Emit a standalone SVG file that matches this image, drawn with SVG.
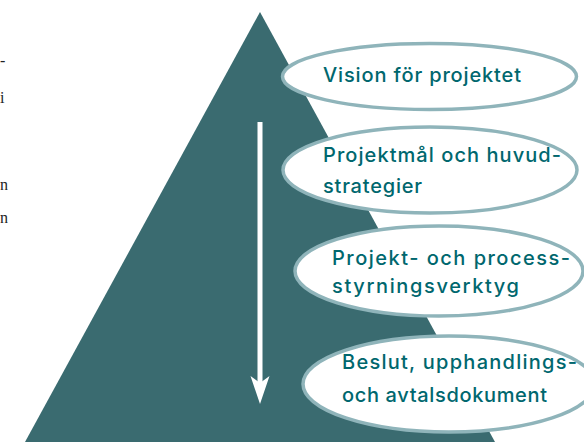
<svg xmlns="http://www.w3.org/2000/svg" width="584" height="442" viewBox="0 0 584 442">
<style>
.tri{fill:#3a6b70}
.oval{fill:#ffffff;stroke:#8fb4ba;stroke-width:3.5}
.lbl{font-family:Inter,"DejaVu Sans","Liberation Sans",sans-serif;font-size:20px;font-weight:500;fill:#00676e}
.frag{font-family:"Liberation Serif",serif;font-size:16px;fill:#222}
.arrow{stroke:#ffffff;stroke-width:5;fill:none}
.head{fill:#ffffff}
</style>
<rect width="584" height="442" fill="#ffffff"/>
<g id="fragments">
<text class="frag" x="0" y="66">-</text>
<text class="frag" x="0" y="103">i</text>
<text class="frag" x="0" y="190">n</text>
<text class="frag" x="0" y="223">n</text>
</g>
<g id="pyramid">
<polygon class="tri" points="260,12 25,442 495,442"/>
</g>
<g id="connectors">
<line class="arrow" x1="260" y1="122" x2="260" y2="386"/>
<polygon class="head" points="260,404 250.5,376 260,383 269.5,376"/>
</g>
<g id="node1">
<ellipse class="oval" cx="429.5" cy="76.5" rx="147" ry="33"/>
<text class="lbl" x="323" y="82" textLength="198" lengthAdjust="spacing">Vision för projektet</text>
</g>
<g id="node2">
<ellipse class="oval" cx="430" cy="170" rx="147" ry="43"/>
<text class="lbl" x="323" y="162" textLength="238" lengthAdjust="spacing">Projektmål och huvud-</text>
<text class="lbl" x="323" y="193" textLength="99" lengthAdjust="spacing">strategier</text>
</g>
<g id="node3">
<ellipse class="oval" cx="439" cy="271" rx="144" ry="45"/>
<text class="lbl" x="332" y="265" textLength="238" lengthAdjust="spacing">Projekt- och process-</text>
<text class="lbl" x="332" y="293" textLength="187" lengthAdjust="spacing">styrningsverktyg</text>
</g>
<g id="node4">
<ellipse class="oval" cx="449" cy="384" rx="146" ry="48"/>
<text class="lbl" x="342" y="369" textLength="235" lengthAdjust="spacing">Beslut, upphandlings-</text>
<text class="lbl" x="342" y="402" textLength="205" lengthAdjust="spacing">och avtalsdokument</text>
</g>
</svg>
